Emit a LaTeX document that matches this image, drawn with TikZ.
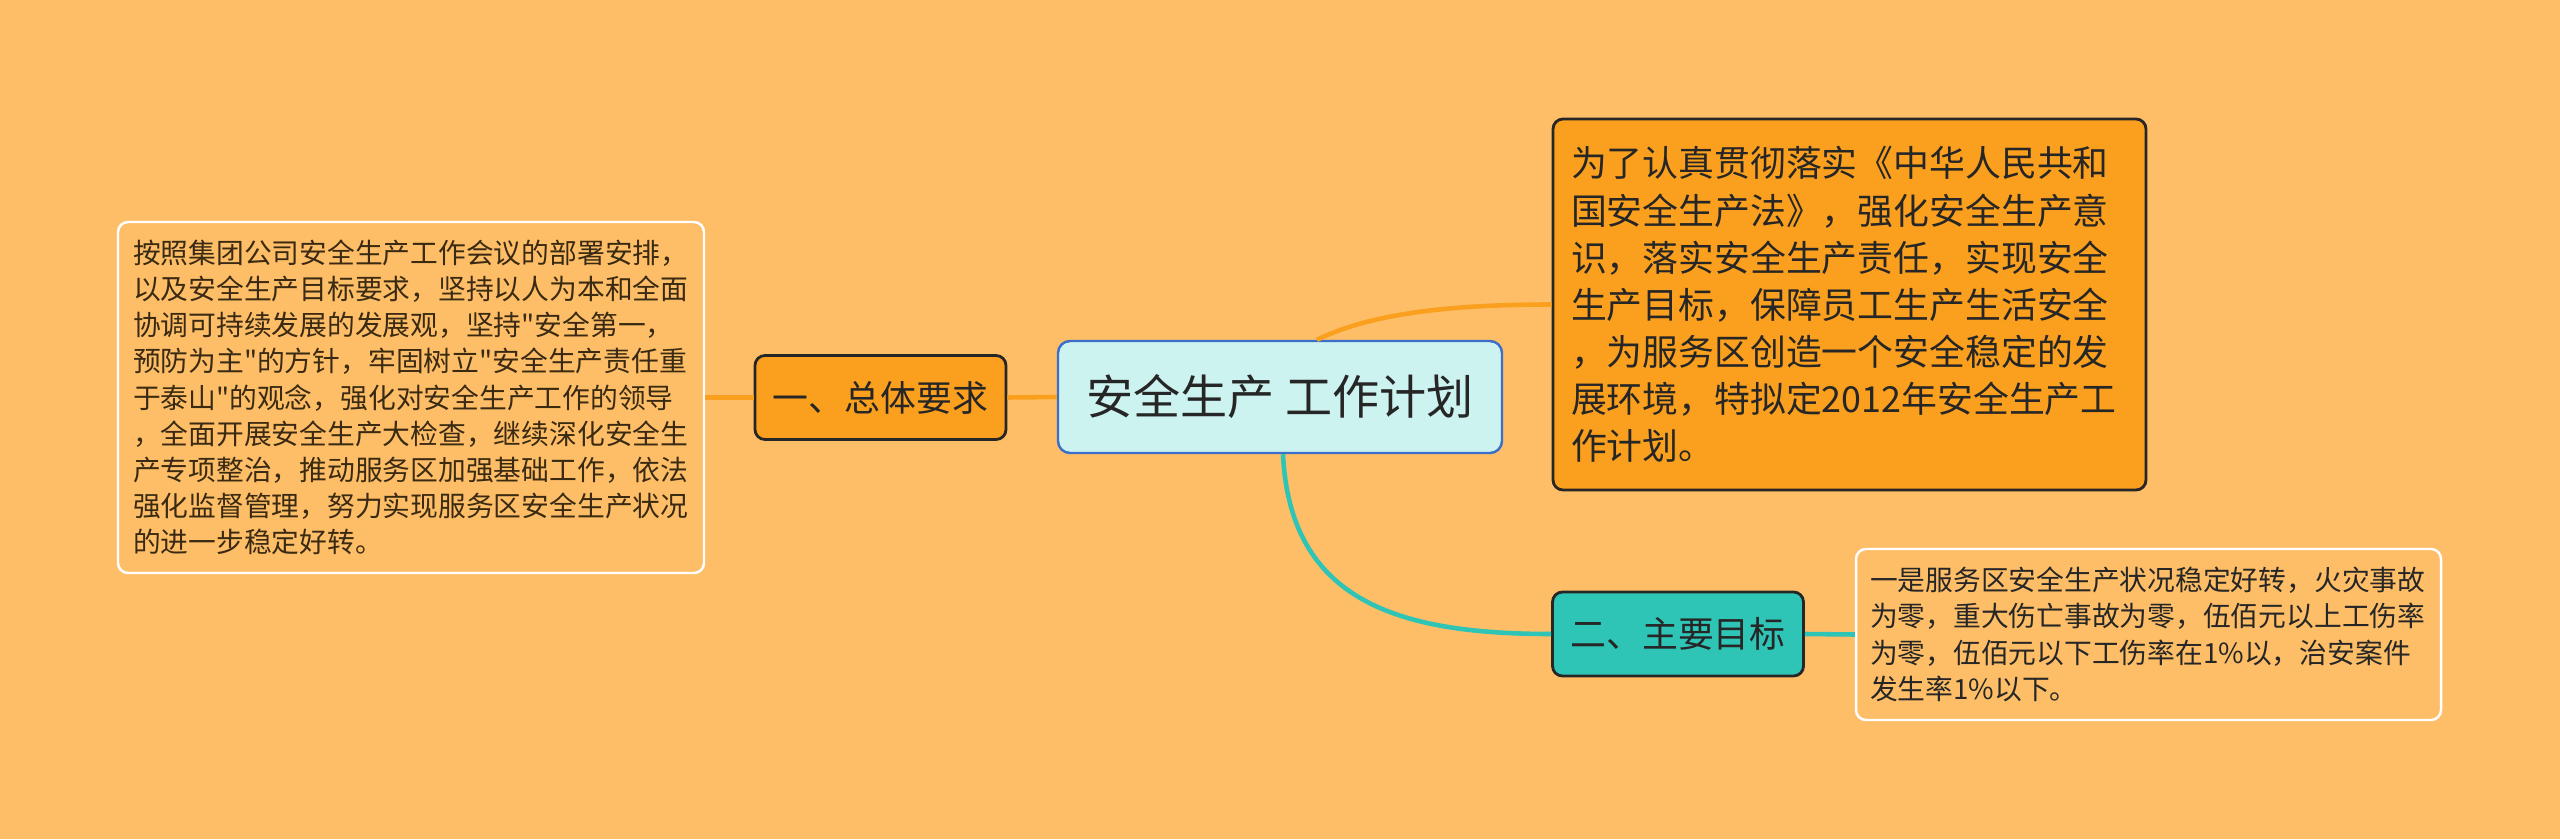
\documentclass[tikz,border=0pt]{standalone}
\usepackage{fontspec}
\newfontfamily\cjk{Noto Sans CJK SC}
\definecolor{bgcol}{HTML}{FDBE67}
\definecolor{orangefill}{HTML}{FAA01E}
\definecolor{tealfill}{HTML}{2EC4B6}
\definecolor{topicfill}{HTML}{CCF3F0}
\definecolor{topicline}{HTML}{3C6FC8}
\definecolor{darktext}{HTML}{262626}
\definecolor{leaftext}{HTML}{3A2A12}
\begin{document}
\begin{tikzpicture}[
  topicbox/.style={draw=topicline, line width=0.7pt, fill=topicfill, rounded corners=0.12cm,
    minimum width=4.44cm, minimum height=1.12cm, inner sep=0pt,
    font=\cjk\fontsize{13.4pt}{16pt}\selectfont, text=darktext},
  branchbox/.style={draw=black!85, line width=0.8pt, rounded corners=0.1cm,
    minimum width=2.51cm, minimum height=0.84cm, inner sep=0pt,
    font=\cjk\fontsize{10.2pt}{12pt}\selectfont, text=darktext},
  leafbox/.style={draw=white, line width=0.7pt, rounded corners=0.1cm,
    inner xsep=0.15cm, inner ysep=0pt, align=left,
    font=\cjk\fontsize{7.9pt}{10.3pt}\selectfont, text=leaftext},
  wire/.style={line width=1.3pt}
]
  % background and page size
  \fill[bgcol] (0,0) rectangle (25.6,8.39);
  \useasboundingbox (0,0) rectangle (25.6,8.39);

  % central topic
  \node[topicbox] (central) at (12.80,4.42) {安全生产 工作计划};

  % left branch
  \node[branchbox, fill=orangefill] (demand) at (8.805,4.415) {一、总体要求};
  \node[leafbox, text width=5.56cm, minimum height=3.51cm] (demandtext) at (4.11,4.415) {%
按照集团公司安全生产工作会议的部署安排，\\
以及安全生产目标要求，坚持以人为本和全面\\
协调可持续发展的发展观，坚持"安全第一，\\
预防为主"的方针，牢固树立"安全生产责任重\\
于泰山"的观念，强化对安全生产工作的领导\\
，全面开展安全生产大检查，继续深化安全生\\
产专项整治，推动服务区加强基础工作，依法\\
强化监督管理，努力实现服务区安全生产状况\\
的进一步稳定好转。};

  % upper right box
  \node[leafbox, draw=black!85, line width=0.8pt, fill=orangefill, text=darktext,
    inner xsep=0.18cm, text width=5.57cm, minimum height=3.71cm,
    font=\cjk\fontsize{10.2pt}{13.4pt}\selectfont] (intro) at (18.495,5.345) {%
为了认真贯彻落实《中华人民共和\\
国安全生产法》，强化安全生产意\\
识，落实安全生产责任，实现安全\\
生产目标，保障员工生产生活安全\\
，为服务区创造一个安全稳定的发\\
展环境，特拟定2012年安全生产工\\
作计划。};

  % lower right branch
  \node[branchbox, fill=tealfill] (goal) at (16.78,2.05) {二、主要目标};
  \node[leafbox, text=darktext, inner xsep=0.14cm, text width=5.57cm, minimum height=1.71cm,
    font=\cjk\fontsize{7.9pt}{10.4pt}\selectfont] (goaltext) at (21.485,2.045) {%
一是服务区安全生产状况稳定好转，火灾事故\\
为零，重大伤亡事故为零，伍佰元以上工伤率\\
为零，伍佰元以下工伤率在1\%以，治安案件\\
发生率1\%以下。};

  % connectors
  \coordinate (topout) at ([xshift=0.37cm]central.north);
  \coordinate (botout) at ([xshift=0.03cm]central.south);
  \draw[wire, orangefill] (demandtext.east) -- (demand.west);
  \draw[wire, orangefill] (demand.east) -- (central.west);
  \draw[wire, orangefill] (topout) .. controls +(0.53,0.26) and +(-1.03,0) .. (intro.west);
  \draw[wire, tealfill] (botout) .. controls +(0.07,-1.47) and +(-1.53,0) .. (goal.west);
  \draw[wire, tealfill] (goal.east) -- (goaltext.west);
\end{tikzpicture}
\end{document}
